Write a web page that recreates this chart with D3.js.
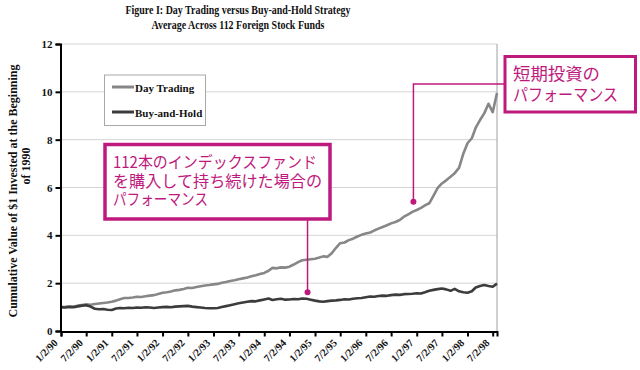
<!DOCTYPE html>
<html><head><meta charset="utf-8">
<script src="https://cdn.jsdelivr.net/npm/d3@7"></script>
<style>body{margin:0;background:#fff}svg{display:block}</style>
</head><body>
<script>
// ---- data (monthly readings, first value = 2 Jan 1990) ----
const startDate = new Date(1990, 0, 2);
const dayTrading = [
1.00,1.01,1.03,1.02,1.06,1.09,1.12,1.10,1.13,1.15,1.17,1.19,
1.22,1.27,1.33,1.38,1.38,1.40,1.43,1.42,1.45,1.48,1.50,1.55,
1.60,1.62,1.65,1.70,1.72,1.76,1.81,1.80,1.84,1.87,1.90,1.92,
1.95,1.97,2.02,2.05,2.09,2.12,2.16,2.20,2.24,2.29,2.33,2.38,
2.43,2.52,2.64,2.62,2.66,2.65,2.69,2.78,2.88,2.96,2.98,3.00,
3.02,3.07,3.12,3.10,3.25,3.48,3.67,3.70,3.80,3.86,3.95,4.02,
4.08,4.12,4.20,4.28,4.35,4.42,4.50,4.56,4.64,4.78,4.88,4.98,
5.06,5.15,5.25,5.34,5.65,5.98,6.17,6.30,6.45,6.60,6.82,7.40,
7.85,8.06,8.50,8.82,9.10,9.50,9.15,9.95];
const buyAndHold = [
1.00,0.98,1.00,0.99,1.03,1.06,1.08,1.02,0.93,0.91,0.92,0.89,
0.88,0.94,0.96,0.95,0.97,0.96,0.98,0.97,0.99,0.98,0.96,0.98,
1.00,1.01,0.99,1.02,1.03,1.04,1.05,1.02,1.00,0.98,0.96,0.95,
0.95,0.96,1.00,1.04,1.08,1.12,1.16,1.19,1.22,1.25,1.24,1.28,
1.32,1.36,1.30,1.33,1.35,1.31,1.32,1.34,1.33,1.36,1.35,1.31,
1.27,1.24,1.22,1.25,1.27,1.28,1.30,1.33,1.32,1.35,1.37,1.38,
1.41,1.44,1.43,1.46,1.48,1.47,1.50,1.52,1.51,1.54,1.55,1.56,
1.58,1.57,1.62,1.68,1.72,1.75,1.78,1.74,1.68,1.76,1.66,1.62,
1.60,1.66,1.82,1.88,1.92,1.88,1.85,1.98];
const seriesNames = ["Day Trading", "Buy-and-Hold"];
const yTicks = [0, 2, 4, 6, 8, 10, 12];
const xTickLabels = ["1/2/90","7/2/90","1/2/91","7/2/91","1/2/92","7/2/92","1/2/93","7/2/93","1/2/94",
  "7/2/94","1/2/95","7/2/95","1/2/96","7/2/96","1/2/97","7/2/97","1/2/98","7/2/98"];
const titleLines = ["Figure I: Day Trading versus Buy-and-Hold Strategy", "Average Across 112 Foreign Stock Funds"];
const yLabelLines = ["Cumulative Value of $1 Invested at the Beginning", "of 1990"];
const note1Lines = ["112本のインデックスファンド", "を購入して持ち続けた場合の", "パフォーマンス"];
const note2Lines = ["短期投資の", "パフォーマンス"];

// ---- build ----
const W = 640, H = 370;
const magenta = "#be1a7d";
const serif = "'Liberation Serif','Times New Roman',serif";
const cjk = "'Noto Sans CJK JP','Noto Sans CJK SC',sans-serif";
const dates = dayTrading.map((_, i) => d3.timeMonth.offset(startDate, i));
const tickDates = xTickLabels.map((_, i) => d3.timeMonth.offset(startDate, i * 6));

const svg = d3.select("body").append("svg").attr("width", W).attr("height", H);
const x = d3.scaleTime().domain([startDate, dates[dates.length - 1]]).range([61, 497]);
const y = d3.scaleLinear().domain([0, 12]).range([331, 44]);

// title
svg.selectAll("text.title").data(titleLines).join("text")
  .attr("x", 238).attr("y", (d, i) => 13.5 + i * 15)
  .attr("text-anchor", "middle").attr("font-family", serif).attr("font-weight", "bold")
  .attr("font-size", 12).attr("fill", "#111")
  .attr("textLength", (d, i) => i === 0 ? 225 : 173).attr("lengthAdjust", "spacingAndGlyphs")
  .text(d => d);

// gridlines
svg.append("g").selectAll("line").data(yTicks.filter(t => t > 0)).join("line")
  .attr("x1", 61).attr("x2", 497).attr("y1", d => y(d)).attr("y2", d => y(d))
  .attr("stroke", "#d4d4d4").attr("stroke-width", 1);
// right border
svg.append("line").attr("x1", 497).attr("x2", 497).attr("y1", y(12)).attr("y2", y(0))
  .attr("stroke", "#a0a0a0").attr("stroke-width", 1);

// lines
const line = d3.line().x((d, i) => x(dates[i])).y(d => y(d));
svg.append("path").datum(dayTrading).attr("d", line).attr("fill", "none")
  .attr("stroke", "#878787").attr("stroke-width", 2.6).attr("stroke-linejoin", "round");
svg.append("path").datum(buyAndHold).attr("d", line).attr("fill", "none")
  .attr("stroke", "#3c3c3c").attr("stroke-width", 2.6).attr("stroke-linejoin", "round");

// y axis
const yAxis = svg.append("g").attr("transform", "translate(60.5,0)")
  .call(d3.axisLeft(y).tickValues(yTicks).tickSize(5).tickPadding(3).tickFormat(d3.format("d")));
yAxis.select(".domain").attr("stroke", "#000").attr("stroke-width", 2);
yAxis.selectAll(".tick line").attr("stroke", "#000").attr("stroke-width", 2);
yAxis.selectAll(".tick text").attr("font-family", serif).attr("font-weight", "bold")
  .attr("font-size", 11).attr("fill", "#111");

// x axis
const xAxis = svg.append("g").attr("transform", "translate(0,331.5)")
  .call(d3.axisBottom(x).tickValues(tickDates).tickSize(5).tickFormat((d, i) => xTickLabels[i]));
xAxis.select(".domain").attr("stroke", "#000").attr("stroke-width", 2);
xAxis.selectAll(".tick line").attr("stroke", "#000").attr("stroke-width", 2);
xAxis.selectAll(".tick text").attr("font-family", serif).attr("font-weight", "bold")
  .attr("font-size", 10.5).attr("fill", "#111")
  .attr("text-anchor", "end").attr("dy", null).attr("y", null)
  .attr("transform", "translate(-3,12) rotate(-45)");

// y label
const yLabelCenters = [191, 166];
svg.selectAll("text.ylab").data(yLabelLines).join("text").attr("class", "ylab")
  .attr("transform", (d, i) => `translate(${17 + i * 12.5},${yLabelCenters[i]}) rotate(-90)`)
  .attr("text-anchor", "middle")
  .attr("font-family", serif).attr("font-weight", "bold").attr("font-size", 12).attr("fill", "#111")
  .text(d => d);

// legend
const lg = svg.append("g");
lg.append("rect").attr("x", 104.5).attr("y", 75).attr("width", 101).attr("height", 50.5)
  .attr("fill", "#fff").attr("stroke", "#a8a8a8").attr("stroke-width", 1);
const lcol = ["#878787", "#3c3c3c"];
seriesNames.forEach((n, i) => {
  const yy = 87 + i * 25;
  lg.append("line").attr("x1", 112).attr("x2", 134).attr("y1", yy).attr("y2", yy)
    .attr("stroke", lcol[i]).attr("stroke-width", 3);
  lg.append("text").attr("x", 135).attr("y", yy + 4.5).attr("font-family", serif)
    .attr("font-weight", "bold").attr("font-size", 11).attr("fill", "#111").text(n);
});

// annotation 1 (buy and hold)
const a1x = x(d3.timeMonth.offset(startDate, 58)) + 1;
svg.append("line").attr("x1", a1x).attr("x2", a1x).attr("y1", 219).attr("y2", y(1.62))
  .attr("stroke", magenta).attr("stroke-width", 1.5);
svg.append("circle").attr("cx", a1x).attr("cy", y(1.62)).attr("r", 3).attr("fill", magenta);
svg.append("rect").attr("x", 105).attr("y", 144.5).attr("width", 225).attr("height", 74.5)
  .attr("fill", "#fff").attr("stroke", magenta).attr("stroke-width", 3.5);
const n1len = [204, 209, 95];
svg.selectAll("text.n1").data(note1Lines).join("text").attr("class", "n1")
  .attr("x", 113).attr("y", (d, i) => 168 + i * 18.5)
  .attr("font-family", cjk).attr("font-size", 16).attr("fill", magenta)
  .attr("textLength", (d, i) => n1len[i]).attr("lengthAdjust", "spacingAndGlyphs")
  .text(d => d);

// annotation 2 (day trading)
const a2x = x(d3.timeMonth.offset(startDate, 83)) + 1;
svg.append("path")
  .attr("d", `M${a2x},${y(5.4)} V84 H504`)
  .attr("fill", "none").attr("stroke", magenta).attr("stroke-width", 1.5);
svg.append("circle").attr("cx", a2x).attr("cy", y(5.4)).attr("r", 3).attr("fill", magenta);
svg.append("rect").attr("x", 505).attr("y", 56.5).attr("width", 130.5).attr("height", 55.5)
  .attr("fill", "#fff").attr("stroke", magenta).attr("stroke-width", 3);
const n2len = [87, 105];
svg.selectAll("text.n2").data(note2Lines).join("text").attr("class", "n2")
  .attr("x", 513).attr("y", (d, i) => 80 + i * 21)
  .attr("font-family", cjk).attr("font-size", 17).attr("fill", magenta)
  .attr("textLength", (d, i) => n2len[i]).attr("lengthAdjust", "spacingAndGlyphs")
  .text(d => d);
</script>
</body></html>
